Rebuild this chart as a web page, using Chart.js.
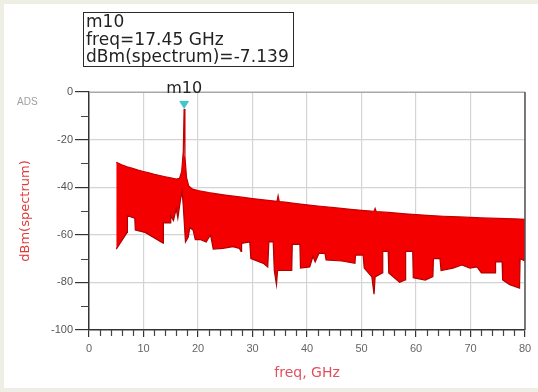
<!DOCTYPE html>
<html>
<head>
<meta charset="utf-8">
<script src="https://cdn.jsdelivr.net/npm/chart.js@4/dist/chart.umd.min.js"></script>
<style>
  html, body { margin: 0; padding: 0; background: #efeee4; }
  #wrap { position: relative; width: 538px; height: 392px; overflow: hidden; }
  #paper { position: absolute; left: 4px; top: 4px; width: 534px; height: 384px; background: #ffffff; }
  #c { position: absolute; left: 0; top: 0; }
  #info { position: absolute; left: 83px; top: 12px; width: 207px; height: 53px; border: 1.5px solid #2a2a2a;
          font: 17px "DejaVu Sans", sans-serif; color: #222; line-height: 17.5px; padding-left: 2px; white-space: nowrap;
          letter-spacing: 0.05px; }
  #ads { position: absolute; left: 17px; top: 96px; font: 10px "Liberation Sans", Arial, sans-serif; color: #a0a0a0; }
</style>
</head>
<body>
<div id="wrap">
  <div id="paper"></div>
  <canvas id="c" width="538" height="392"></canvas>
  <div id="info"><div>m10</div><div>freq=17.45 GHz</div><div>dBm(spectrum)=-7.139</div></div>
  <div id="ads">ADS</div>
</div>
<script>
// ---- data ----
const upperFreq = [5, 6, 7, 8, 9, 10, 11, 12, 13, 14, 15, 16, 16.6, 17.0, 17.3, 17.45, 17.6, 17.9, 18.3, 19, 20, 22, 25, 28, 30, 32, 34.5, 34.7, 34.9, 36, 38, 40, 42, 45, 48, 50, 52.3, 52.5, 52.7, 55, 58, 60, 62, 65, 68, 70, 72, 75, 78, 80];
const upperDb = [-29.5, -30.6, -31.4, -32.1, -32.8, -33.4, -34.0, -34.6, -35.1, -35.6, -36.1, -36.6, -36.3, -33.5, -25, -7.139, -27, -36, -39.5, -40.8, -41.4, -42.3, -43.3, -44.2, -44.8, -45.3, -45.9, -43.6, -46, -46.3, -46.9, -47.4, -47.9, -48.6, -49.3, -49.7, -50.1, -48.9, -50.2, -50.6, -51.2, -51.5, -51.8, -52.2, -52.5, -52.7, -52.9, -53.1, -53.3, -53.5];

const lowerFreq = [5, 7, 7.05, 8.4, 8.5, 10.3, 13.6, 13.65, 14.9, 15.0, 15.5, 16.0, 16.3, 16.8, 17.1, 17.3, 17.7, 18.2, 18.5, 19.1, 19.5, 20.4, 21.5, 22.3, 22.8, 24.6, 26.4, 27.6, 27.9, 28.0, 29.5, 29.7, 32, 32.8, 33.0, 33.8, 34.0, 34.4, 34.6, 35.4, 37.2, 37.3, 38.7, 38.8, 40.5, 41.1, 41.5, 42.2, 43.3, 43.5, 46.4, 48.8, 48.9, 50.3, 50.5, 51.9, 52.3, 52.5, 53.8, 53.9, 54.9, 55.0, 57, 58, 58.1, 59.4, 59.5, 61.7, 63.1, 63.2, 64.4, 64.6, 66.8, 68.4, 69.9, 71.2, 72.0, 74.5, 74.6, 75.8, 75.9, 77.2, 79, 79.1, 80];
const lowerDb = [-66, -59, -52, -53, -58, -59, -63.5, -55, -55, -52, -54, -49, -53, -45, -42, -48, -63, -61, -57, -58, -62, -62, -63, -60, -66, -65.7, -65, -65.7, -67, -63.6, -63, -70, -72, -73.5, -63, -63, -75, -81, -75, -75, -75, -64, -64, -74, -73.5, -69, -71.4, -67.8, -67.8, -70.6, -71, -72, -68.5, -68.5, -74, -77.7, -85, -77.7, -76, -67, -67, -76, -80, -79, -67, -67, -78, -79, -77.6, -70, -70, -75, -74, -72.7, -74, -73.5, -76, -76, -71.4, -71.4, -79, -81, -82.4, -70, -71];

const markerName = 'm10';
const markerFreq = [17.45];
const markerDb = [-7.139];

const xTicks = [0, 10, 20, 30, 40, 50, 60, 70, 80];
const xMinorTicks = [2, 4, 6, 8, 12, 14, 16, 18, 22, 24, 26, 28, 32, 34, 36, 38, 42, 44, 46, 48, 52, 54, 56, 58, 62, 64, 66, 68, 72, 74, 76, 78];
const yTicks = [0, -20, -40, -60, -80, -100];
const yMinorTicks = [-10, -30, -50, -70, -90];

const FONT = '"Liberation Sans", Arial, sans-serif';
const FONT2 = '"DejaVu Sans", sans-serif';

const toXY = (xs, ys) => xs.map((x, i) => ({ x: x, y: ys[i] }));

const frame = {
  id: 'frame',
  afterDatasetsDraw(chart) {
    const { ctx, chartArea: a } = chart;
    const xs = chart.scales.x, ys = chart.scales.y;
    ctx.save();
    ctx.lineWidth = 1;
    ctx.strokeStyle = '#a8a8a8';
    ctx.beginPath(); ctx.moveTo(a.left, a.top + 0.5); ctx.lineTo(a.right, a.top + 0.5); ctx.stroke();
    ctx.strokeStyle = '#555';
    ctx.lineWidth = 1.5;
    ctx.beginPath(); ctx.moveTo(a.right, a.top); ctx.lineTo(a.right, a.bottom); ctx.stroke();
    // minor ticks
    ctx.strokeStyle = '#444';
    ctx.lineWidth = 1.2;
    ctx.beginPath();
    xMinorTicks.forEach(v => {
      const p = Math.round(xs.getPixelForValue(v)) + 0.5;
      ctx.moveTo(p, a.bottom); ctx.lineTo(p, a.bottom + 6);
    });
    yMinorTicks.forEach(v => {
      const p = Math.round(ys.getPixelForValue(v)) + 0.5;
      ctx.moveTo(a.left - 8, p); ctx.lineTo(a.left, p);
    });
    ctx.stroke();
    ctx.restore();
  },
  afterDraw(chart) {
    const { ctx } = chart;
    const xs = chart.scales.x, ys = chart.scales.y;
    const px = xs.getPixelForValue(markerFreq[0]);
    const py = ys.getPixelForValue(markerDb[0]);
    ctx.save();
    ctx.fillStyle = '#3ec6d2';
    ctx.beginPath();
    ctx.moveTo(px - 5, py - 8);
    ctx.lineTo(px + 5, py - 8);
    ctx.lineTo(px, py);
    ctx.closePath();
    ctx.fill();
    ctx.fillStyle = '#222';
    ctx.font = '16px ' + FONT2;
    ctx.textAlign = 'center';
    ctx.textBaseline = 'middle';
    ctx.fillText(markerName, px, py - 20);
    ctx.restore();
  }
};

new Chart(document.getElementById('c'), {
  type: 'line',
  data: {
    datasets: [
      {
        data: toXY(upperFreq, upperDb),
        borderColor: '#c40000',
        borderWidth: 1.2,
        pointRadius: 0,
        fill: false,
        tension: 0
      },
      {
        data: toXY(lowerFreq, lowerDb),
        borderColor: '#b00000',
        borderWidth: 1.2,
        backgroundColor: '#f40000',
        pointRadius: 0,
        fill: '-1',
        tension: 0
      }
    ]
  },
  options: {
    responsive: false,
    animation: false,
    devicePixelRatio: 1,
    layout: { padding: { left: 0, top: 92, right: 13, bottom: 0 } },
    plugins: { legend: { display: false }, tooltip: { enabled: false } },
    scales: {
      x: {
        type: 'linear',
        min: 0, max: 80,
        afterFit: s => { s.height = 62; },
        afterBuildTicks: s => { s.ticks = xTicks.map(v => ({ value: v })); },
        ticks: {
          autoSkip: false,
          maxRotation: 0,
          padding: 5,
          color: '#666',
          font: { family: FONT, size: 11 },
          callback: v => String(v)
        },
        grid: {
          color: c => (c.tick && c.tick.value !== 0) ? '#d4d4d4' : 'rgba(0,0,0,0)',
          tickColor: '#333',
          tickLength: 7,
          lineWidth: 1.2
        },
        border: { display: true, color: '#333', width: 1.5 },
        title: {
          display: true,
          text: 'freq, GHz',
          color: '#e0505e',
          font: { family: FONT2, size: 14 },
          padding: { top: 0, bottom: 10 }
        }
      },
      y: {
        type: 'linear',
        min: -100, max: 0,
        afterFit: s => { s.width = 89; },
        afterBuildTicks: s => { s.ticks = yTicks.map(v => ({ value: v })); },
        ticks: {
          autoSkip: false,
          padding: 2,
          color: '#555',
          font: { family: FONT, size: 11 },
          callback: v => String(v)
        },
        grid: {
          color: c => (c.tick && c.tick.value !== -100) ? '#d4d4d4' : 'rgba(0,0,0,0)',
          tickColor: '#333',
          tickLength: 14,
          lineWidth: 1.2
        },
        border: { display: true, color: '#333', width: 1.5 },
        title: {
          display: true,
          text: 'dBm(spectrum)',
          color: '#e03a3a',
          font: { family: FONT2, size: 13 },
          padding: { top: 18, bottom: 0 }
        }
      }
    }
  },
  plugins: [frame]
});
</script>
</body>
</html>
